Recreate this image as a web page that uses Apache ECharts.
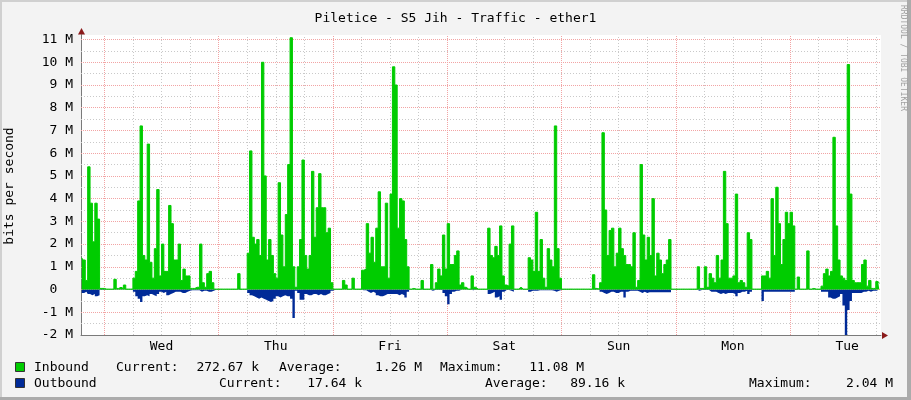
<!DOCTYPE html>
<html><head><meta charset="utf-8">
<script src="https://cdn.jsdelivr.net/npm/echarts@6/dist/echarts.min.js"></script>
<style>html,body{margin:0;padding:0;background:#F3F3F3}#c{width:911px;height:400px}</style>
</head><body><div id="c"></div>
<script>
// ---------------- data ----------------
const chartTitle = 'Piletice - S5 Jih - Traffic - ether1';
const yAxisTitle = 'bits per second';
const dayNames = ['Wed', 'Thu', 'Fri', 'Sat', 'Sun', 'Mon', 'Tue'];
const dayLabelHours = [12, 36, 60, 84, 108, 132, 156];   // noon of each day, hours from Wed 00:00
const yTickValues = [-2, -1, 0, 1, 2, 3, 4, 5, 6, 7, 8, 9, 10, 11]; // M bits/s
const sampleStartHour = -4.75;  // centre of first half-hour sample (hours from Wed 00:00)
const sampleStepHours = 0.5;

// Inbound, Mbit/s, half-hour samples
const inTuePre = [1.4, 1.3, 0.4, 5.4, 3.8, 2.1, 3.8, 3.1, 0.05, 0.05];
const inWed = [0.02, 0.02, 0.02, 0.02, 0.45, 0.05, 0.1, 0.05, 0.2, 0.02, 0.02, 0.02,
  0.5, 0.8, 3.9, 7.2, 1.5, 1.3, 6.4, 1.2, 0.5, 1.8, 4.4, 0.6,
  2.0, 0.8, 0.8, 3.7, 2.9, 1.3, 1.3, 2.0, 0.4, 0.9, 0.6, 0.6,
  0.05, 0.05, 0.1, 0.1, 2.0, 0.3, 0.1, 0.7, 0.8, 0.3, 0.02, 0.02];
const inThu = [0.02, 0.02, 0.02, 0.02, 0.02, 0.02, 0.02, 0.02, 0.7, 0.02, 0.02, 0.02,
  1.6, 6.1, 2.3, 2.0, 2.2, 1.5, 10.0, 5.0, 1.3, 2.2, 1.5, 0.7,
  0.5, 4.7, 2.4, 1.0, 3.3, 5.5, 11.08, 1.0, 0.1, 1.0, 2.2, 5.7,
  1.5, 0.9, 1.5, 5.2, 2.3, 3.6, 5.1, 3.6, 3.6, 2.5, 2.7, 0.3];
const inFri = [0.02, 0.02, 0.02, 0.02, 0.4, 0.2, 0.02, 0.02, 0.5, 0.02, 0.02, 0.02,
  0.85, 0.9, 2.9, 1.6, 2.3, 1.2, 2.7, 4.3, 1.0, 1.0, 3.8, 0.5,
  4.2, 9.8, 9.0, 2.7, 4.0, 3.9, 2.2, 1.0, 0.02, 0.05, 0.02, 0.02,
  0.02, 0.4, 0.02, 0.02, 0.02, 1.1, 0.02, 0.3, 0.9, 0.6, 2.4, 0.9];
const inSat = [2.9, 1.1, 1.1, 1.5, 1.7, 0.2, 0.3, 0.1, 0.02, 0.02, 0.6, 0.1,
  0.02, 0.02, 0.02, 0.02, 0.02, 2.7, 1.5, 1.4, 1.9, 1.5, 2.8, 0.6,
  0.2, 0.15, 2.0, 2.8, 0.02, 0.02, 0.1, 0.02, 0.02, 0.02, 1.4, 1.3,
  0.8, 3.4, 0.8, 2.2, 0.5, 0.1, 1.8, 1.3, 1.0, 7.2, 1.8, 0.5];
const inSun = [0.02, 0.02, 0.02, 0.02, 0.02, 0.02, 0.02, 0.02, 0.02, 0.02, 0.02, 0.02,
  0.02, 0.65, 0.05, 0.02, 0.3, 6.9, 3.5, 1.5, 2.6, 2.7, 1.0, 1.6,
  2.7, 1.8, 1.5, 1.1, 1.1, 1.0, 2.5, 0.1, 0.4, 5.5, 2.4, 1.3,
  2.3, 1.5, 4.0, 0.6, 1.6, 1.3, 0.7, 1.1, 1.3, 2.2, 0.02, 0.02];
const inMon = [0.02, 0.02, 0.02, 0.02, 0.02, 0.02, 0.02, 0.02, 0.02, 1.0, 0.05, 0.05,
  1.0, 0.1, 0.7, 0.5, 0.3, 1.5, 0.5, 1.3, 5.2, 2.9, 0.5, 0.5,
  0.6, 4.2, 0.3, 0.4, 0.3, 0.1, 2.5, 2.2, 0.02, 0.02, 0.02, 0.02,
  0.6, 0.6, 0.8, 0.5, 4.0, 1.5, 4.5, 2.9, 1.1, 2.2, 3.4, 2.9];
const inTue = [3.4, 2.8, 0.02, 0.55, 0.02, 0.02, 0.02, 1.7, 0.02, 0.05, 0.02, 0.02,
  0.02, 0.15, 0.7, 0.9, 0.6, 0.8, 6.7, 2.8, 1.3, 0.6, 0.5, 0.4,
  9.9, 4.2, 0.4, 0.3, 0.3, 0.3, 1.1, 1.3, 0.15, 0.4, 0.05, 0.05, 0.35, 0.27];

// Outbound, Mbit/s, half-hour samples (drawn below zero)
const outTuePre = [0.15, 0.15, 0.1, 0.2, 0.25, 0.2, 0.3, 0.25, 0.02, 0.02];
const outWed = [0.01, 0.01, 0.01, 0.01, 0.01, 0.01, 0.01, 0.01, 0.01, 0.01, 0.01, 0.01,
  0.1, 0.3, 0.4, 0.55, 0.3, 0.25, 0.3, 0.2, 0.25, 0.3, 0.2, 0.1,
  0.15, 0.1, 0.25, 0.2, 0.15, 0.1, 0.1, 0.1, 0.15, 0.15, 0.1, 0.05,
  0.03, 0.03, 0.03, 0.03, 0.1, 0.05, 0.05, 0.1, 0.1, 0.05, 0.01, 0.01];
const outThu = [0.01, 0.01, 0.01, 0.01, 0.01, 0.01, 0.01, 0.01, 0.02, 0.01, 0.01, 0.01,
  0.15, 0.25, 0.3, 0.35, 0.4, 0.35, 0.4, 0.45, 0.5, 0.55, 0.5, 0.4,
  0.3, 0.35, 0.3, 0.25, 0.3, 0.3, 0.4, 1.25, 0.05, 0.15, 0.45, 0.45,
  0.2, 0.25, 0.25, 0.2, 0.2, 0.25, 0.2, 0.25, 0.25, 0.2, 0.15, 0.05];
const outFri = [0.01, 0.01, 0.01, 0.01, 0.01, 0.01, 0.01, 0.01, 0.01, 0.01, 0.01, 0.01,
  0.03, 0.03, 0.1, 0.15, 0.1, 0.15, 0.25, 0.3, 0.3, 0.25, 0.2, 0.2,
  0.2, 0.2, 0.2, 0.25, 0.2, 0.25, 0.35, 0.1, 0.01, 0.01, 0.01, 0.01,
  0.01, 0.02, 0.01, 0.01, 0.01, 0.05, 0.02, 0.02, 0.02, 0.02, 0.15, 0.3];
const outSat = [0.65, 0.2, 0.1, 0.05, 0.05, 0.01, 0.01, 0.01, 0.01, 0.01, 0.03, 0.01,
  0.01, 0.01, 0.01, 0.01, 0.01, 0.2, 0.15, 0.1, 0.35, 0.3, 0.45, 0.1,
  0.02, 0.02, 0.05, 0.1, 0.01, 0.01, 0.01, 0.01, 0.01, 0.01, 0.1, 0.05,
  0.05, 0.05, 0.03, 0.03, 0.03, 0.03, 0.03, 0.03, 0.05, 0.1, 0.05, 0.02];
const outSun = [0.01, 0.01, 0.01, 0.01, 0.01, 0.01, 0.01, 0.01, 0.01, 0.01, 0.01, 0.01,
  0.01, 0.02, 0.01, 0.01, 0.1, 0.15, 0.2, 0.15, 0.1, 0.1, 0.15, 0.15,
  0.1, 0.1, 0.35, 0.1, 0.05, 0.05, 0.05, 0.05, 0.1, 0.15, 0.1, 0.15,
  0.12, 0.12, 0.12, 0.12, 0.12, 0.12, 0.12, 0.12, 0.12, 0.12, 0.01, 0.01];
const outMon = [0.01, 0.01, 0.01, 0.01, 0.01, 0.01, 0.01, 0.01, 0.01, 0.05, 0.02, 0.02,
  0.02, 0.02, 0.1, 0.1, 0.1, 0.15, 0.2, 0.15, 0.2, 0.15, 0.15, 0.15,
  0.2, 0.3, 0.15, 0.1, 0.1, 0.05, 0.2, 0.1, 0.01, 0.01, 0.01, 0.01,
  0.5, 0.1, 0.1, 0.1, 0.1, 0.1, 0.1, 0.1, 0.1, 0.1, 0.1, 0.1];
const outTue = [0.1, 0.1, 0.01, 0.01, 0.01, 0.01, 0.01, 0.01, 0.01, 0.01, 0.01, 0.01,
  0.01, 0.1, 0.1, 0.1, 0.35, 0.4, 0.4, 0.35, 0.3, 0.2, 0.7, 2.04,
  0.9, 0.5, 0.15, 0.15, 0.15, 0.15, 0.1, 0.1, 0.05, 0.1, 0.05, 0.05, 0.05, 0.02];

// Legend rows
const inboundLegend = { name: 'Inbound', current: '272.67 k', average: '1.26 M', maximum: '11.08 M' };
const outboundLegend = { name: 'Outbound', current: '17.64 k', average: '89.16 k', maximum: '2.04 M' };
const creditText = 'RRDTOOL / TOBI OETIKER';

// ---------------- build ----------------
const inbound = [].concat(inTuePre, inWed, inThu, inFri, inSat, inSun, inMon, inTue);
const outbound = [].concat(outTuePre, outWed, outThu, outFri, outSat, outSun, outMon, outTue);
const hourOf = i => sampleStartHour + i * sampleStepHours;
const inData = inbound.map((v, i) => [hourOf(i), v]);
const outData = outbound.map((v, i) => [hourOf(i), -v]);

const X_MIN = -4.9, X_MAX = 163.1, Y_MIN = -2, Y_MAX = 11.2;
const GREEN = '#00CC00', BLUE = '#002A97';
const MONO = '"DejaVu Sans Mono", monospace';
const PINK = '#F2A4A4', GREY = '#C9C9C9';

const gridLines = [];
for (let k = -3; k <= 22; k++) {
  const v = k * 0.5;
  const major = (k % 2 === 0);
  gridLines.push({ yAxis: v, lineStyle: { color: major ? PINK : GREY, type: major ? [1, 1] : [1, 2], width: 1 } });
}
for (let h = 0; h <= 162; h += 6) {
  const major = (h % 24 === 0);
  gridLines.push({ xAxis: h, lineStyle: { color: major ? PINK : GREY, type: major ? [1, 1] : [1, 2], width: 1 } });
}

const chart = echarts.init(document.getElementById('c'), null, { renderer: 'canvas' });

const option = {
  animation: false,
  backgroundColor: '#F3F3F3',
  title: {
    text: chartTitle, left: 'center', top: 7,
    textStyle: { fontFamily: MONO, fontSize: 13, fontWeight: 'normal', color: '#000' }
  },
  grid: { left: 81, right: 30, top: 35, bottom: 65, show: true, backgroundColor: '#FFFFFF', borderWidth: 0 },
  xAxis: {
    type: 'value', min: X_MIN, max: X_MAX,
    axisLine: { show: true, onZero: false, lineStyle: { color: '#7A7A7A', width: 1 } },
    axisTick: { show: false },
    splitLine: { show: false },
    axisLabel: {
      customValues: dayLabelHours, margin: 5,
      fontFamily: MONO, fontSize: 13, color: '#000',
      formatter: v => dayNames[Math.round((v - 12) / 24)]
    }
  },
  yAxis: {
    type: 'value', min: Y_MIN, max: Y_MAX, interval: 1,
    axisLine: { show: true, onZero: false, lineStyle: { color: '#7A7A7A', width: 1 } },
    axisTick: { show: false },
    splitLine: { show: false },
    axisLabel: {
      customValues: yTickValues, margin: 8,
      fontFamily: MONO, fontSize: 13, color: '#000',
      formatter: v => v === 0 ? '0  ' : v + ' M'
    }
  },
  series: [
    {
      name: 'grid', type: 'line', data: [], z: 1, silent: true,
      markLine: { z: 1, silent: true, symbol: ['none', 'none'], label: { show: false }, data: gridLines, animation: false }
    },
    {
      name: 'Outbound', type: 'line', step: 'middle', data: outData, z: 3,
      symbol: 'none', lineStyle: { width: 0, color: BLUE }, areaStyle: { color: BLUE, opacity: 1 }
    },
    {
      name: 'Inbound', type: 'line', step: 'middle', data: inData, z: 4,
      symbol: 'none', lineStyle: { width: 1, color: GREEN }, areaStyle: { color: GREEN, opacity: 1 }
    }
  ]
};
chart.setOption(option);

// decorations: arrows, frame, legend text
const pBR = chart.convertToPixel({ gridIndex: 0 }, [X_MAX, Y_MIN]);
const pTL = chart.convertToPixel({ gridIndex: 0 }, [X_MIN, Y_MAX]);
const ax = Math.round(pTL[0]) + 0.5, ay = Math.round(pBR[1]) + 0.5;
const ARROW = '#8B1A1A';

function txt(x, y, s, extra) {
  return Object.assign({
    type: 'text', x: x, y: y, silent: true,
    style: { text: s, font: '13px ' + MONO, fill: '#000', align: 'left', verticalAlign: 'middle',
             textAlign: 'left', textVerticalAlign: 'middle' }
  }, extra || {});
}
function rtxt(x, y, s) {
  return txt(x, y, s, { style: { text: s, font: '13px ' + MONO, fill: '#000', align: 'right', verticalAlign: 'middle', textAlign: 'right', textVerticalAlign: 'middle' } });
}
const row1 = 368, row2 = 384;
const graphics = [
  // frame
  { type: 'rect', shape: { x: 0, y: 0, width: 911, height: 2 }, style: { fill: '#D0D0D0' }, silent: true },
  { type: 'rect', shape: { x: 0, y: 0, width: 2, height: 400 }, style: { fill: '#D0D0D0' }, silent: true },
  { type: 'rect', shape: { x: 907, y: 0, width: 4, height: 400 }, style: { fill: '#ABABAB' }, silent: true },
  { type: 'rect', shape: { x: 0, y: 397, width: 911, height: 3 }, style: { fill: '#ABABAB' }, silent: true },
  // axis extension + arrows
  { type: 'line', shape: { x1: ax, y1: pTL[1], x2: ax, y2: pTL[1] - 3 }, style: { stroke: '#7A7A7A', lineWidth: 1 }, silent: true },
  { type: 'polygon', shape: { points: [[pBR[0] + 1, ay - 3.5], [pBR[0] + 7, ay], [pBR[0] + 1, ay + 3.5]] }, style: { fill: ARROW }, silent: true },
  { type: 'polygon', shape: { points: [[ax - 3.5, pTL[1] - 0.5], [ax, pTL[1] - 7], [ax + 3.5, pTL[1] - 0.5]] }, style: { fill: ARROW }, silent: true },
  // y axis title
  txt(10, 186, yAxisTitle, { rotation: Math.PI / 2, style: { text: yAxisTitle, font: '13px ' + MONO, fill: '#000', align: 'center', verticalAlign: 'middle', textAlign: 'center', textVerticalAlign: 'middle' } }),
  // credit
  txt(903, 5, creditText, { rotation: -Math.PI / 2, style: { text: creditText, font: '8px ' + MONO, fill: '#A0A0A0', align: 'left', verticalAlign: 'middle', textAlign: 'left', textVerticalAlign: 'middle' } }),
  // legend boxes
  { type: 'rect', shape: { x: 15.5, y: row1 - 5.5, width: 9, height: 9 }, style: { fill: GREEN, stroke: '#333', lineWidth: 1 }, silent: true },
  { type: 'rect', shape: { x: 15.5, y: row2 - 5.5, width: 9, height: 9 }, style: { fill: BLUE, stroke: '#333', lineWidth: 1 }, silent: true },
  // legend row 1
  txt(34, row1, inboundLegend.name),
  txt(116, row1, 'Current:'),
  rtxt(259, row1, inboundLegend.current),
  txt(279, row1, 'Average:'),
  rtxt(422, row1, inboundLegend.average),
  txt(440, row1, 'Maximum:'),
  rtxt(584, row1, inboundLegend.maximum),
  // legend row 2
  txt(34, row2, outboundLegend.name),
  txt(219, row2, 'Current:'),
  rtxt(362, row2, outboundLegend.current),
  txt(485, row2, 'Average:'),
  rtxt(625, row2, outboundLegend.average),
  txt(749, row2, 'Maximum:'),
  rtxt(893, row2, outboundLegend.maximum)
];
chart.setOption({ graphic: { elements: graphics } });
</script>
</body></html>
